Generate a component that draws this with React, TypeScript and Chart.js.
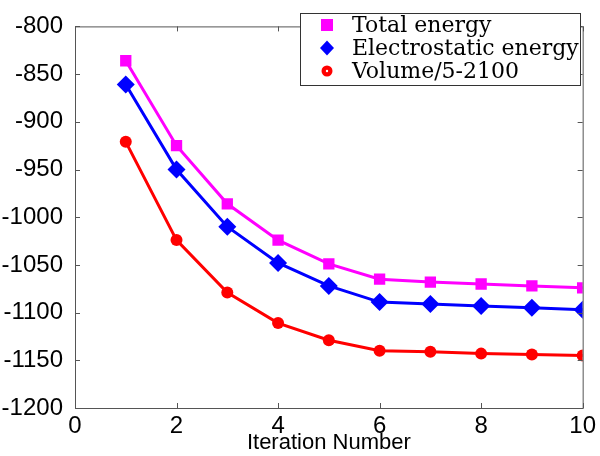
import React, { useEffect, useRef } from "react";
import { Chart, registerables } from "chart.js";

Chart.register(...registerables);

const iterations = [1, 2, 3, 4, 5, 6, 7, 8, 9, 10];
const totalEnergy = [-836, -925, -986, -1024, -1049, -1065, -1068, -1070, -1072, -1074];
const electrostaticEnergy = [-861, -950, -1010, -1048, -1072, -1089, -1091, -1093, -1095, -1097];
const volumeScaled = [-921, -1024, -1079, -1111, -1129, -1140, -1141, -1143, -1144, -1145];
const seriesLabels = ["Total energy", "Electrostatic energy", "Volume/5-2100"];
const seriesColors = ["#ff00ff", "#0000ff", "#ff0000"];
const seriesShapes = ["rect", "rectRot", "circle"];
const seriesRadius = [8, 9, 6];
const xTicks = [0, 2, 4, 6, 8, 10];
const yTicks = [-1200, -1150, -1100, -1050, -1000, -950, -900, -850, -800];
const xTitle = "Iteration Number";

const frameColor = "#555555";

const framePlugin = {
  id: "matlabFrame",
  afterDraw(chart: any) {
    const { ctx, chartArea, scales } = chart;
    const { left, right, top, bottom } = chartArea;
    ctx.save();
    ctx.strokeStyle = frameColor;
    ctx.lineWidth = 1;
    ctx.strokeRect(left + 0.5, top + 0.5, right - left, bottom - top);
    const tl = 5;
    ctx.beginPath();
    for (const v of xTicks) {
      const x = Math.round(scales.x.getPixelForValue(v)) + 0.5;
      ctx.moveTo(x, bottom);
      ctx.lineTo(x, bottom - tl);
      ctx.moveTo(x, top);
      ctx.lineTo(x, top + tl);
    }
    for (const v of yTicks) {
      const y = Math.round(scales.y.getPixelForValue(v)) + 0.5;
      ctx.moveTo(left, y);
      ctx.lineTo(left + tl, y);
      ctx.moveTo(right, y);
      ctx.lineTo(right - tl, y);
    }
    ctx.stroke();

    // legend box inside plot, top right
    const bx = 300, by = 13, bw = 280, bh = 72;
    ctx.fillStyle = "#ffffff";
    ctx.fillRect(bx, by, bw, bh);
    ctx.strokeStyle = "#333333";
    ctx.strokeRect(bx + 0.5, by + 0.5, bw, bh);
    ctx.font = "22px 'DejaVu Serif'";
    ctx.textBaseline = "middle";
    ctx.textAlign = "left";
    const rowY = [25, 48, 71];
    seriesLabels.forEach((lab, i) => {
      const mx = 327, my = rowY[i];
      ctx.fillStyle = seriesColors[i];
      ctx.beginPath();
      if (seriesShapes[i] === "rect") {
        ctx.rect(mx - 6, my - 6, 12, 12);
      } else if (seriesShapes[i] === "rectRot") {
        ctx.moveTo(mx, my - 7.5);
        ctx.lineTo(mx + 7, my);
        ctx.lineTo(mx, my + 7.5);
        ctx.lineTo(mx - 7, my);
        ctx.closePath();
      } else {
        ctx.arc(mx, my, 5.5, 0, Math.PI * 2);
      }
      ctx.fill();
      if (seriesShapes[i] === "circle") {
        ctx.fillStyle = "#ffffff";
        ctx.beginPath();
        ctx.arc(mx, my, 1.2, 0, Math.PI * 2);
        ctx.fill();
      }
      ctx.fillStyle = "#000000";
      ctx.fillText(lab, 352, my + 1);
    });
    ctx.restore();
  },
};

export default function App() {
  const ref = useRef<HTMLCanvasElement | null>(null);
  useEffect(() => {
    if (!ref.current) return;
    const data = [totalEnergy, electrostaticEnergy, volumeScaled];
    const chart = new Chart(ref.current, {
      type: "line",
      data: {
        datasets: data.map((vals, i) => ({
          label: seriesLabels[i],
          data: iterations.map((x, j) => ({ x, y: vals[j] })),
          borderColor: seriesColors[i],
          backgroundColor: seriesColors[i],
          borderWidth: 3,
          pointStyle: seriesShapes[i] as any,
          pointRadius: seriesRadius[i],
          pointBorderWidth: 0,
          tension: 0,
        })),
      },
      options: {
        animation: false,
        responsive: false,
        maintainAspectRatio: false,
        layout: { padding: { left: 0, right: 13, top: 8, bottom: 0 } },
        plugins: { legend: { display: false }, tooltip: { enabled: false } },
        scales: {
          x: {
            type: "linear",
            min: 0,
            max: 10,
            afterBuildTicks: (s: any) => {
              s.ticks = xTicks.map((v) => ({ value: v }));
            },
            afterFit: (s: any) => {
              s.height = 48;
            },
            grid: { display: false, drawTicks: false },
            border: { display: false },
            ticks: {
              color: "#000",
              font: { family: "'Liberation Sans'", size: 24 },
              padding: 4,
              maxRotation: 0,
              callback: (v: any) => String(v),
            },
            title: { display: true, text: xTitle, color: "#000", font: { family: "'Liberation Sans'", size: 22 }, padding: { top: 0, bottom: 0 } },
          },
          y: {
            type: "linear",
            min: -1200,
            max: -800,
            afterBuildTicks: (s: any) => {
              s.ticks = yTicks.map((v) => ({ value: v }));
            },
            afterFit: (s: any) => {
              s.width = 75;
            },
            grid: { display: false, drawTicks: false },
            border: { display: false },
            ticks: {
              color: "#000",
              font: { family: "'Liberation Sans'", size: 24 },
              padding: 12,
              callback: (v: any) => String(v),
            },
          },
        },
      },
      plugins: [framePlugin],
    });
    return () => chart.destroy();
  }, []);
  return (
    <div style={{ position: "fixed", left: 0, top: 0, width: 600, height: 456, background: "#fff" }}>
      <canvas ref={ref} width={600} height={456} style={{ width: 600, height: 456 }} />
    </div>
  );
}
